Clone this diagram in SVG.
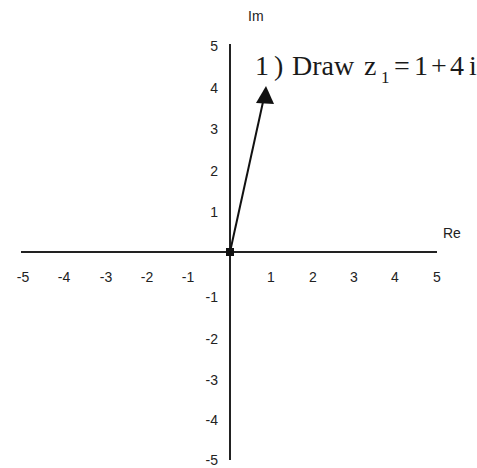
<svg xmlns="http://www.w3.org/2000/svg" width="477" height="468" viewBox="0 0 477 468">
<defs>
<style>
.axis{stroke:#222;stroke-width:2;fill:none}
.lbl{font-family:"Liberation Sans",Arial,sans-serif;font-size:14px;fill:#222}
.xl{text-anchor:middle}
.yl{text-anchor:end}
.note{font-family:"Liberation Serif","Times New Roman",serif;font-size:28px;fill:#1a1a1a}
.vec{stroke:#111;stroke-width:2;fill:none}
</style>
</defs>
<rect width="477" height="468" fill="#fff"/>
<g id="axes">
<line class="axis" x1="21" y1="252" x2="437" y2="252"/>
<line class="axis" x1="230" y1="44" x2="230" y2="460"/>
<text class="lbl" x="248" y="21">Im</text>
<text class="lbl" x="443" y="238">Re</text>
</g>
<g id="x-labels" class="lbl xl">
<text x="23" y="282">-5</text>
<text x="64" y="282">-4</text>
<text x="106" y="282">-3</text>
<text x="147" y="282">-2</text>
<text x="188" y="282">-1</text>
<text x="271" y="282">1</text>
<text x="313" y="282">2</text>
<text x="354" y="282">3</text>
<text x="395" y="282">4</text>
<text x="437" y="282">5</text>
</g>
<g id="y-labels" class="lbl yl">
<text x="218" y="51">5</text>
<text x="218" y="93">4</text>
<text x="218" y="134">3</text>
<text x="218" y="176">2</text>
<text x="218" y="217">1</text>
<text x="218" y="302">-1</text>
<text x="218" y="344">-2</text>
<text x="218" y="385">-3</text>
<text x="218" y="425">-4</text>
<text x="218" y="465">-5</text>
</g>
<g id="connectors">
<line class="vec" x1="230" y1="252" x2="263" y2="102"/>
<path d="M266,86 L256,103 L274,104 z" fill="#111"/>
</g>
<g id="origin">
<rect x="226" y="248" width="8" height="8" fill="#111"/>
</g>
<g id="note">
<text class="note" y="75"><tspan x="255">1</tspan><tspan x="274">)</tspan><tspan x="292">Draw</tspan><tspan x="364">z</tspan><tspan x="381" y="83" font-size="17">1</tspan><tspan x="394" y="75">=</tspan><tspan x="414">1</tspan><tspan x="431">+</tspan><tspan x="450">4</tspan><tspan x="469">i</tspan></text>
</g>
</svg>
